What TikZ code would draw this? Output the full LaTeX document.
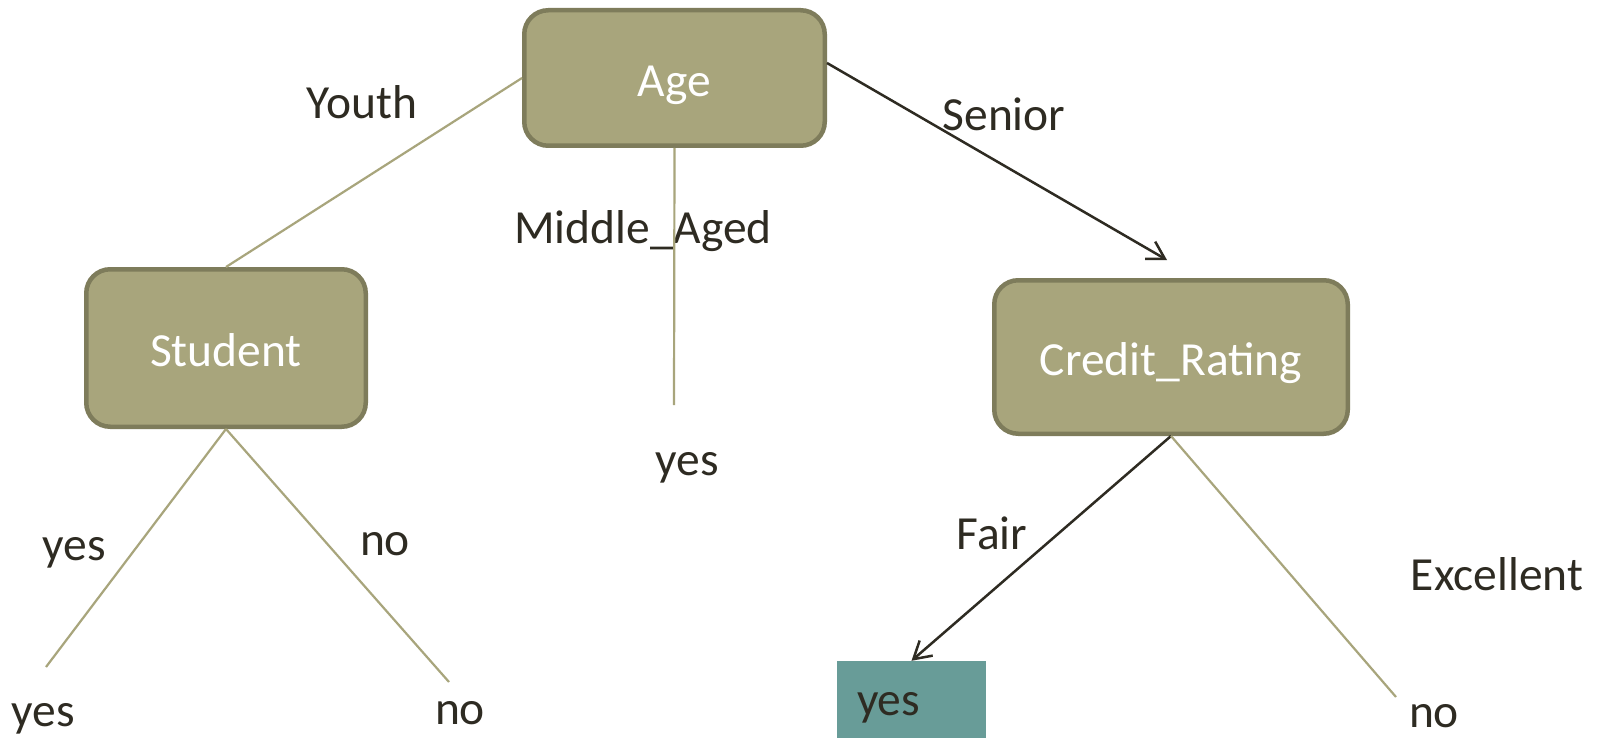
\documentclass[tikz,border=0pt]{standalone}
\usepackage{fontspec}
\setmainfont{Carlito}
\usetikzlibrary{arrows.meta,calc}
\definecolor{boxfill}{HTML}{A8A57C}
\definecolor{boxdraw}{HTML}{7E7C5B}
\definecolor{branch}{HTML}{A8A57C}
\definecolor{ink}{HTML}{2E2B22}
\definecolor{leaf}{HTML}{689C98}
\begin{document}
\begin{tikzpicture}[x=1pt,y=-1pt,
  decision/.style={draw=boxdraw, fill=boxfill, line width=4.5pt, rounded corners=24pt, text=white, font=\fontsize{47.5}{56}\selectfont, inner sep=0pt, text height=44pt, text depth=8pt},
  lbl/.style={text=ink, font=\fontsize{47.5}{56}\selectfont, inner sep=0pt},
  leafstyle/.style={fill=leaf, text=ink, font=\fontsize{47.5}{56}\selectfont, minimum width=149pt, minimum height=77pt, inner xsep=20pt, inner ysep=0pt, text width=109pt, align=left, text height=31pt, text depth=0pt},
  branchline/.style={draw=branch, line width=2.2pt},
  arrowline/.style={draw=ink, line width=2.5pt, -{Straight Barb[length=17pt,width=20pt]}}]
\useasboundingbox (0,0) rectangle (1601,738);
\fill[white] (0,0) rectangle (1601,738);

\node[decision, minimum width=300.5pt, minimum height=135.5pt, text height=46pt] (age) at (674.5,78) {Age};
\node[decision, minimum width=279.5pt, minimum height=157.5pt, text height=45pt] (student) at (226,348) {Student};
\node[decision, minimum width=353.5pt, minimum height=153.5pt] (credit) at (1171,357) {Credit\_Rating};
\node[leafstyle] (leafbox) at (911.5,699.5) {yes};

\node[lbl] (youth) at (362,102) {Youth};
\node[lbl] (middle) at (643,231) {Middle\_Aged};
\node[lbl] (senior) at (1004,114) {Senior};
\node[lbl] (midyes) at (687,468) {yes};
\node[lbl] (syes) at (74,553) {yes};
\node[lbl] (sno) at (385,544) {no};
\node[lbl] (leafyes) at (43,719) {yes};
\node[lbl] (leafno) at (460,713) {no};
\node[lbl] (fair) at (992,533) {Fair};
\node[lbl] (excellent) at (1497,574) {Excellent};
\node[lbl] (cno) at (1434,716) {no};

\coordinate (midend) at (674,405);
\coordinate (seniorend) at (1167,260);
\coordinate (syesend) at (46,667);
\coordinate (snoend) at (449,682);
\coordinate (cnoend) at (1396,697);

\draw[branchline] (age.west) -- (student.north);
\draw[branchline] (age.south) -- (midend);
\draw[arrowline] ([yshift=15pt]age.east) -- (seniorend);
\draw[branchline] (student.south) -- (syesend);
\draw[branchline] (student.south) -- (snoend);
\draw[arrowline] (credit.south) -- (leafbox.north);
\draw[branchline] (credit.south) -- (cnoend);
\end{tikzpicture}
\end{document}
